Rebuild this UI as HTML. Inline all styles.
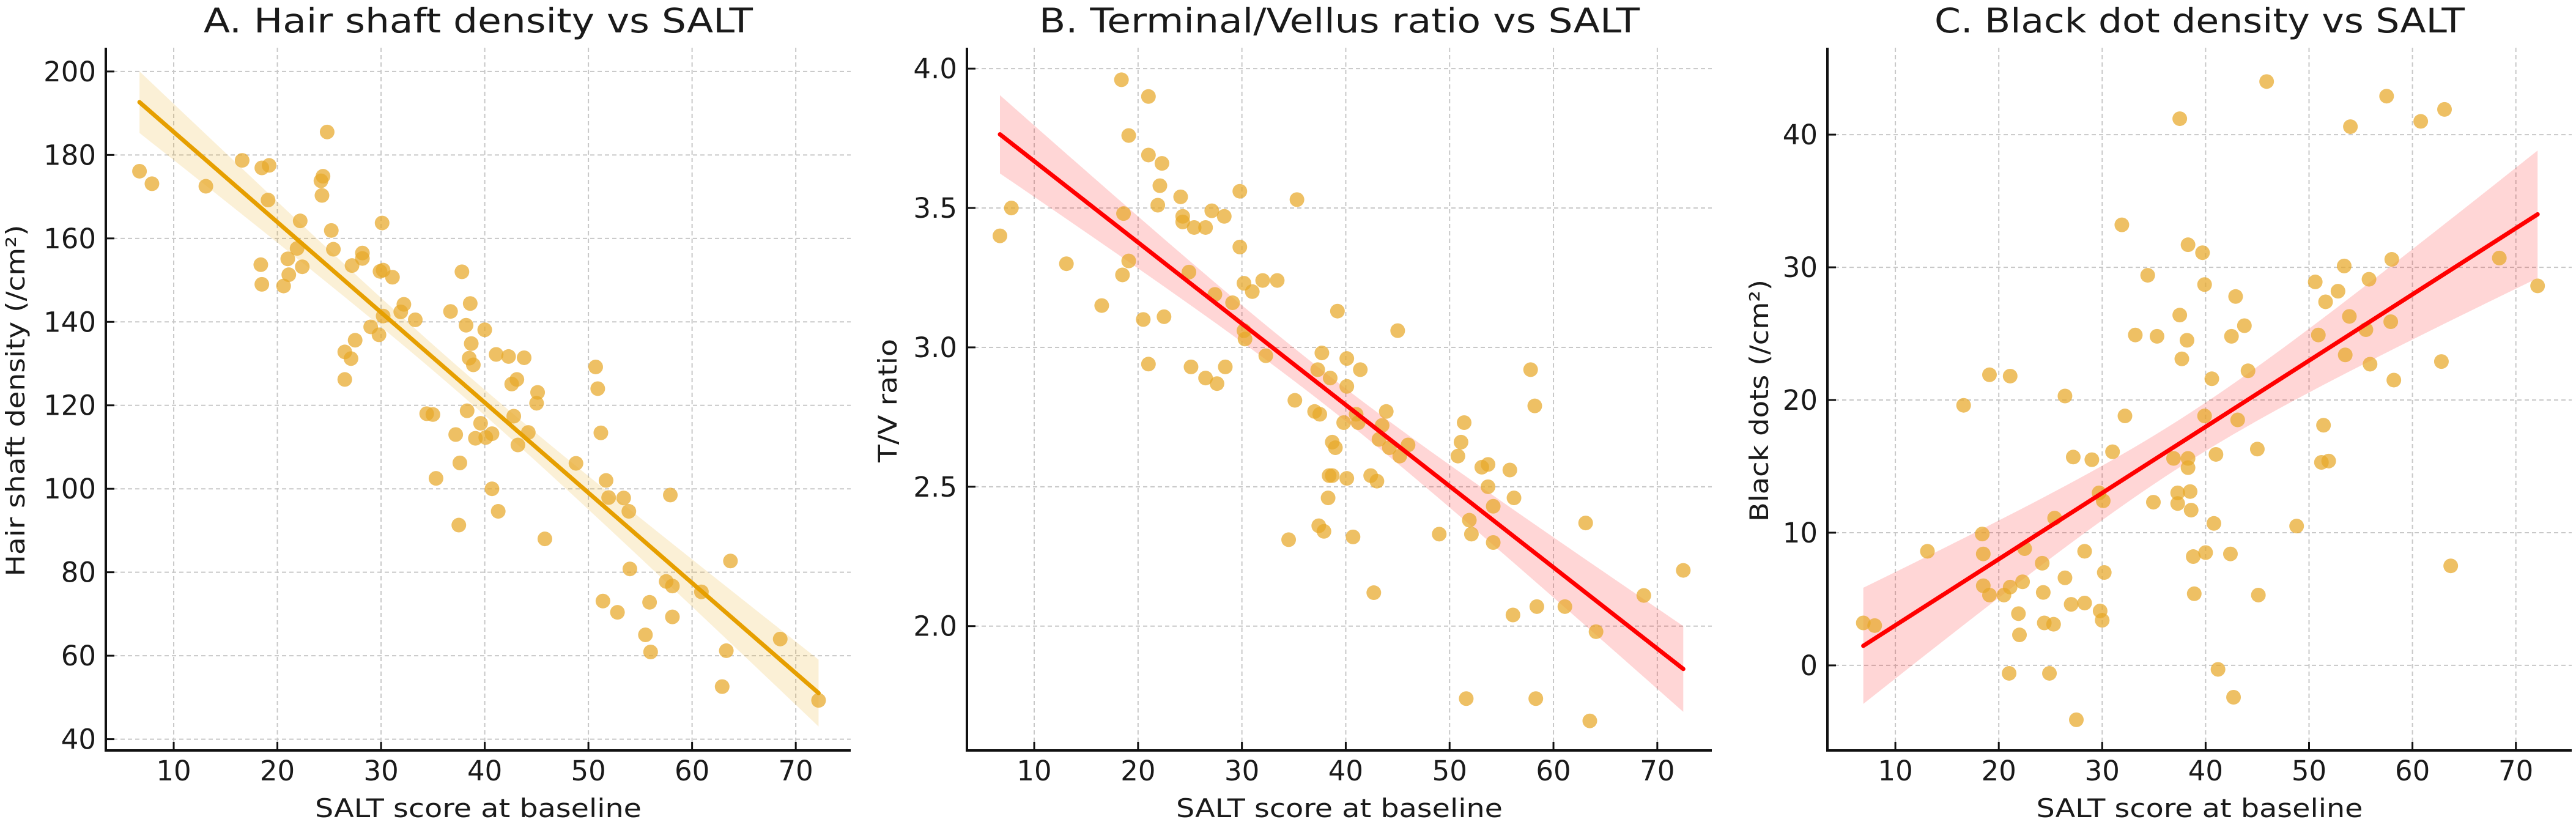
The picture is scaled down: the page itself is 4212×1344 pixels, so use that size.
<!DOCTYPE html>
<html><head><meta charset="utf-8">
<style>
html,body{margin:0;padding:0;background:#fff;}
svg{display:block;}
text{font-family:"DejaVu Sans","Liberation Sans",sans-serif;fill:#1a1a1a;}
</style></head>
<body>
<svg id="fig" width="4212" height="1344" viewBox="0 0 4212 1344" xmlns="http://www.w3.org/2000/svg"></svg>
<script>
// ---- Panel A data: SALT vs hair shaft density ----
const salt_A = [6.7,7.9,13.1,16.6,18.5,19.2,19.1,18.4,18.5,20.6,21.0,21.1,21.9,22.2,22.4,24.2,24.4,24.3,24.8,25.2,25.4,26.5,26.5,27.1,27.5,27.2,28.2,28.2,29.0,29.8,29.9,30.2,31.1,30.1,30.2,31.9,32.2,33.3,34.4,35.0,35.3,36.7,37.2,37.6,37.5,37.8,38.2,38.3,38.6,38.5,38.7,38.9,39.1,39.6,40.0,40.1,40.7,40.7,41.1,41.3,42.3,42.6,43.1,42.8,43.2,43.8,44.2,45.0,45.1,45.8,48.8,50.7,50.9,51.2,51.4,51.7,51.95,52.8,53.4,53.9,54.0,55.5,55.9,56.0,57.5,57.9,58.1,58.1,60.9,62.9,63.3,63.7,68.5,72.2];
const density_A = [176.1,173.1,172.5,178.7,176.9,177.5,169.2,153.7,149.0,148.6,155.1,151.3,157.6,164.2,153.2,173.8,174.9,170.3,185.5,161.9,157.4,132.8,126.2,131.2,135.6,153.5,156.5,155.2,138.8,136.9,152.1,152.4,150.7,163.7,141.4,142.4,144.2,140.5,118.0,117.8,102.5,142.5,113.0,106.2,91.3,152.0,139.2,118.7,144.4,131.3,134.8,129.7,112.1,115.7,138.1,112.3,113.2,100.0,132.2,94.6,131.7,125.1,126.2,117.4,110.5,131.4,113.5,120.5,123.1,88.0,106.1,129.2,124.0,113.4,73.1,102.0,97.9,70.4,97.8,94.6,80.8,65.0,72.8,60.9,77.8,98.5,76.7,69.3,75.3,52.6,61.2,82.7,64.0,49.3];
const yticks_A = [40,60,80,100,120,140,160,180,200];

// ---- Panel B data: SALT vs T/V ratio ----
const salt_B = [6.7,7.8,13.1,16.5,18.4,18.5,18.6,19.1,19.1,20.5,21.0,21.0,21.0,21.9,22.1,22.3,22.5,24.1,24.3,24.3,24.9,25.1,25.4,26.5,26.5,27.1,27.4,27.6,28.3,28.4,29.1,29.8,29.8,30.2,30.2,30.3,31.0,32.0,32.3,33.4,34.5,35.1,35.3,37.0,37.3,37.5,37.7,37.4,37.9,38.3,38.4,38.5,38.7,38.7,39.0,39.2,39.8,40.1,40.1,40.1,40.7,41.0,41.2,41.4,42.4,42.7,43.0,43.2,43.5,43.9,44.2,45.0,45.2,46.0,49.0,50.8,51.1,51.4,51.6,51.9,52.1,53.1,53.7,53.7,54.2,54.2,55.8,56.1,56.2,57.8,58.2,58.3,58.4,61.1,63.1,63.5,64.1,68.7,72.5];
const ratio_B = [3.40,3.50,3.30,3.15,3.96,3.26,3.48,3.76,3.31,3.10,3.90,3.69,2.94,3.51,3.58,3.66,3.11,3.54,3.47,3.45,3.27,2.93,3.43,3.43,2.89,3.49,3.19,2.87,3.47,2.93,3.16,3.56,3.36,3.23,3.06,3.03,3.20,3.24,2.97,3.24,2.31,2.81,3.53,2.77,2.92,2.76,2.98,2.36,2.34,2.46,2.54,2.89,2.66,2.54,2.64,3.13,2.73,2.96,2.86,2.53,2.32,2.76,2.73,2.92,2.54,2.12,2.52,2.67,2.72,2.77,2.64,3.06,2.61,2.65,2.33,2.61,2.66,2.73,1.74,2.38,2.33,2.57,2.58,2.50,2.43,2.30,2.56,2.04,2.46,2.92,2.79,1.74,2.07,2.07,2.37,1.66,1.98,2.11,2.20];
const yticks_B = [2.0,2.5,3.0,3.5,4.0];

// ---- Panel C data: SALT vs black dots ----
const salt_C = [6.9,8.0,13.1,16.6,19.1,18.4,18.5,18.5,19.1,20.5,21.1,21.1,21.0,21.9,22.0,22.3,22.5,24.2,24.3,24.4,24.9,25.3,25.4,26.4,26.4,27.0,27.2,27.5,28.3,28.3,29.0,29.8,30.0,30.2,29.7,30.1,31.0,31.9,32.2,33.2,34.4,34.95,35.3,36.9,37.3,37.3,37.5,37.5,37.7,38.2,38.3,38.3,38.3,38.5,38.6,38.8,38.9,39.7,39.9,39.9,40.0,40.6,40.8,41.0,41.2,42.4,42.5,42.9,42.7,43.1,43.75,44.1,45.0,45.1,45.9,48.8,50.6,50.9,51.4,51.2,51.9,51.6,52.8,53.4,53.5,53.9,54.0,55.5,55.8,55.9,57.5,57.9,58.0,58.2,60.8,62.8,63.1,63.7,68.4,72.1];
const dots_C = [3.2,3.0,8.6,19.6,21.9,9.9,8.4,6.0,5.3,5.3,5.9,21.8,-0.6,3.9,2.3,6.3,8.8,7.7,5.5,3.2,-0.6,3.1,11.1,20.3,6.6,4.6,15.7,-4.1,4.7,8.6,15.5,4.1,3.4,7.0,13.0,12.4,16.1,33.2,18.8,24.9,29.4,12.3,24.8,15.6,13.0,12.2,41.2,26.4,23.1,24.5,31.7,15.6,14.9,13.1,11.7,8.2,5.4,31.1,28.7,18.8,8.5,21.6,10.7,15.9,-0.3,8.4,24.8,27.8,-2.4,18.5,25.6,22.2,16.3,5.3,44.0,10.5,28.9,24.9,18.1,15.3,15.4,27.4,28.2,30.1,23.4,26.3,40.6,25.3,29.1,22.7,42.9,25.9,30.6,21.5,41.0,22.9,41.9,7.5,30.7,28.6];
const yticks_C = [0,10,20,30,40];

const xticks = [10,20,30,40,50,60,70];

const NS = "http://www.w3.org/2000/svg";
const svg = document.getElementById('fig');
function mk(tag, attrs, parent){
  const e = document.createElementNS(NS, tag);
  for (const k in attrs) e.setAttribute(k, attrs[k]);
  (parent||svg).appendChild(e);
  return e;
}

function panel(cfg){
  const g = mk('g', {});
  
  
  const L = cfg.left, R = cfg.right, T = 78, B = 1227;
  const sx = v => L + (v - cfg.xmin) / (cfg.xmax - cfg.xmin) * (R - L);
  const sy = v => B - (v - cfg.ymin) / (cfg.ymax - cfg.ymin) * (B - T);

  // grid
  xticks.forEach(t => {
    const l = mk('line', {x1:sx(t), x2:sx(t), y1:T, y2:B, stroke:'#c8c8c8', 'stroke-width':2, 'stroke-dasharray':'7,5'}, g);
    
    
  });
  cfg.yticks.forEach(t => {
    const l = mk('line', {x1:L, x2:R, y1:sy(t), y2:sy(t), stroke:'#c8c8c8', 'stroke-width':2, 'stroke-dasharray':'7,5'}, g);
    
    
  });

  // regression + CI
  const xs = cfg.xs, ys = cfg.ys, n = xs.length;
  let mx=0,my=0; for(let i=0;i<n;i++){mx+=xs[i];my+=ys[i];} mx/=n; my/=n;
  let sxx=0,sxy=0; for(let i=0;i<n;i++){sxx+=(xs[i]-mx)**2; sxy+=(xs[i]-mx)*(ys[i]-my);}
  const b = sxy/sxx, a = my - b*mx;
  let sse=0; for(let i=0;i<n;i++){sse+=(ys[i]-a-b*xs[i])**2;}
  const s = Math.sqrt(sse/(n-2)), tq = 1.984;
  const x0 = Math.min(...xs), x1 = Math.max(...xs);
  const up=[], lo=[];
  for(let k=0;k<=60;k++){
    const x = x0 + (x1-x0)*k/60;
    const se = tq*s*Math.sqrt(1/n + (x-mx)**2/sxx);
    up.push(sx(x)+','+sy(a+b*x+se));
    lo.unshift(sx(x)+','+sy(a+b*x-se));
  }
  const band = mk('polygon', {points: up.concat(lo).join(' '), fill: cfg.lineColor, 'fill-opacity':0.16}, g);
  
  

  // points
  for(let i=0;i<n;i++){
    const c = mk('circle', {cx:sx(xs[i]), cy:sy(ys[i]), r:12, fill:'#e8a828', 'fill-opacity':0.72}, g);
    
    
  }

  const ln = mk('line', {x1:sx(x0), y1:sy(a+b*x0), x2:sx(x1), y2:sy(a+b*x1), stroke:cfg.lineColor, 'stroke-width':7, 'stroke-linecap':'round'}, g);
  
  

  // spines
  const sl = mk('line', {x1:L, x2:L, y1:T, y2:B+2, stroke:'#111', 'stroke-width':4}, g);
  
  
  const sb = mk('line', {x1:L-2, x2:R, y1:B, y2:B, stroke:'#111', 'stroke-width':4}, g);
  
  

  // x ticks
  xticks.forEach(t => {
    const tk = mk('line', {x1:sx(t), x2:sx(t), y1:B, y2:B-14, stroke:'#111', 'stroke-width':3}, g);
    
    
    const tx = mk('text', {x:sx(t), y:1276, 'font-size':45, 'text-anchor':'middle'}, g);
    tx.textContent = t;
    
    
  });
  cfg.yticks.forEach(t => {
    const tk = mk('line', {x1:L, x2:L+14, y1:sy(t), y2:sy(t), stroke:'#111', 'stroke-width':3}, g);
    
    
    const tx = mk('text', {x:L-16, y:sy(t)+16, 'font-size':45, 'text-anchor':'end'}, g);
    tx.textContent = cfg.fmt(t);
    
    
  });

  const cx = (L+R)/2;
  const title = mk('text', {x:cx, y:53, 'font-size':55, 'text-anchor':'middle', textLength:cfg.titleLen, lengthAdjust:'spacingAndGlyphs'}, g);
  title.textContent = cfg.title;
  
  

  const xl = mk('text', {x:cx, y:1336, 'font-size':42, 'text-anchor':'middle', textLength:534, lengthAdjust:'spacingAndGlyphs'}, g);
  xl.textContent = 'SALT score at baseline';
  
  

  const yl = mk('text', {x:0, y:0, 'font-size':42, 'text-anchor':'middle', textLength:cfg.ylabLen, lengthAdjust:'spacingAndGlyphs', transform:'translate('+(cfg.ylabX+15)+',655) rotate(-90)'}, g);
  yl.textContent = cfg.ylabel;
  
  
}

panel({id:'hair-density', left:173, right:1391, xmin:3.45, xmax:75.3, ymin:37.3, ymax:205.7,
  xs:salt_A, ys:density_A, yticks:yticks_A, fmt:v=>String(v), lineColor:'#e69f00',
  title:'A. Hair shaft density vs SALT', titleLen:898, ylabel:'Hair shaft density (/cm²)', ylabLen:575, ylabX:25});
panel({id:'tv-ratio', left:1581, right:2799, xmin:3.52, xmax:75.25, ymin:1.554, ymax:4.075,
  xs:salt_B, ys:ratio_B, yticks:yticks_B, fmt:v=>v.toFixed(1), lineColor:'#ff0000',
  title:'B. Terminal/Vellus ratio vs SALT', titleLen:982, ylabel:'T/V ratio', ylabLen:202, ylabX:1451});
panel({id:'black-dots', left:2988, right:4205, xmin:3.43, xmax:75.4, ymin:-6.41, ymax:46.55,
  xs:salt_C, ys:dots_C, yticks:yticks_C, fmt:v=>String(v), lineColor:'#ff0000',
  title:'C. Black dot density vs SALT', titleLen:867, ylabel:'Black dots (/cm²)', ylabLen:396, ylabX:2876});
</script>
</body></html>
